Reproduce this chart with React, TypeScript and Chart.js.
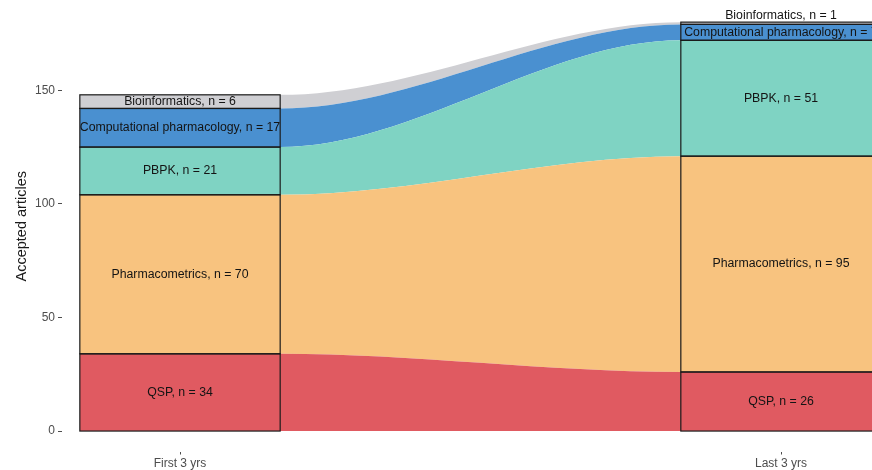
import React, { useEffect, useRef } from "react";
import { Chart, registerables } from "chart.js";

Chart.register(...registerables);

const categories = ["First 3 yrs", "Last 3 yrs"];
const strata = ["QSP", "Pharmacometrics", "PBPK", "Computational pharmacology", "Bioinformatics"];
const firstCounts = [34, 70, 21, 17, 6];
const lastCounts = [26, 95, 51, 7, 1];
const yTicks = [0, 50, 100, 150];
const colors = ["#e05a61", "#f8c37f", "#7fd3c3", "#4a90d0", "#cfcfd3"];

const HALF = 1 / 6; // half stratum width in category units
const FONT = "'Liberation Sans', Arial, Helvetica, sans-serif";

function cumulative(arr: number[]) {
  const out: number[] = [];
  let s = 0;
  for (const v of arr) {
    s += v;
    out.push(s);
  }
  return out;
}

export default function App() {
  const ref = useRef<HTMLCanvasElement | null>(null);

  useEffect(() => {
    if (!ref.current) return;
    const cumFirst = cumulative(firstCounts);
    const cumLast = cumulative(lastCounts);
    const columns = [firstCounts, lastCounts];
    const cums = [cumFirst, cumLast];

    const datasets = strata.map((name, i) => ({
      label: name,
      data: [
        { x: 1 - HALF, y: cumFirst[i] },
        { x: 1 + HALF, y: cumFirst[i] },
        { x: 2 - HALF, y: cumLast[i] },
        { x: 2 + HALF, y: cumLast[i] },
      ],
      borderWidth: 0,
      borderColor: colors[i],
      backgroundColor: colors[i],
      pointRadius: 0,
      cubicInterpolationMode: "monotone" as const,
      fill: i === 0 ? "origin" : "-1",
    }));

    const strataPlugin = {
      id: "strata",
      afterDatasetsDraw(chart: any) {
        const { ctx, scales } = chart;
        const xs = scales.x;
        const ys = scales.y;
        ctx.save();
        columns.forEach((counts, c) => {
          const cx = c + 1;
          const left = xs.getPixelForValue(cx - HALF);
          const right = xs.getPixelForValue(cx + HALF);
          const mid = xs.getPixelForValue(cx);
          counts.forEach((v, i) => {
            const top = ys.getPixelForValue(cums[c][i]);
            const bot = ys.getPixelForValue(cums[c][i] - v);
            ctx.strokeStyle = "#1a1a1a";
            ctx.lineWidth = 1.2;
            ctx.strokeRect(left, top, right - left, bot - top);
          });
          counts.forEach((v, i) => {
            const top = ys.getPixelForValue(cums[c][i]);
            const bot = ys.getPixelForValue(cums[c][i] - v);
            ctx.fillStyle = "#141414";
            ctx.font = `12.3px ${FONT}`;
            ctx.textAlign = "center";
            ctx.textBaseline = "middle";
            const y = v <= 2 ? top - 7 : (top + bot) / 2;
            ctx.fillText(`${strata[i]}, n = ${v}`, mid, y);
          });
        });
        ctx.restore();
      },
    };

    const chart = new Chart(ref.current, {
      type: "line",
      data: { datasets: datasets as any },
      options: {
        animation: false,
        responsive: false,
        maintainAspectRatio: false,
        layout: { padding: { top: 1, right: 0, left: 0, bottom: 0 } },
        plugins: {
          legend: { display: false },
          tooltip: { enabled: false },
        },
        elements: { line: { tension: 0 } },
        scales: {
          x: {
            type: "linear",
            min: 1 - 118 / 601,
            max: 1 - 118 / 601 + 810 / 601,
            afterBuildTicks: (scale: any) => {
              scale.ticks = categories.map((_, i) => ({ value: i + 1 }));
            },
            afterFit: (scale: any) => {
              scale.height = 18.5;
              scale.paddingLeft = 0;
              scale.paddingRight = 0;
            },
            ticks: {
              autoSkip: false,
              maxRotation: 0,
              padding: 2,
              color: "#4d4d4d",
              font: { family: FONT, size: 12 },
              callback: (value: any) => categories[Math.round(Number(value)) - 1] ?? "",
            },
            grid: {
              drawOnChartArea: false,
              drawTicks: true,
              tickLength: 3,
              tickColor: "#4d4d4d",
              tickWidth: 1,
            },
            border: { display: false },
          },
          y: {
            type: "linear",
            min: -9,
            max: 189.3,
            afterBuildTicks: (scale: any) => {
              scale.ticks = yTicks.map((v) => ({ value: v }));
            },
            afterFit: (scale: any) => {
              scale.width = 62;
              scale.paddingTop = 0;
              scale.paddingBottom = 0;
            },
            ticks: {
              padding: 3,
              color: "#4d4d4d",
              font: { family: FONT, size: 12 },
            },
            grid: {
              drawOnChartArea: false,
              drawTicks: true,
              tickLength: 4,
              tickColor: "#4d4d4d",
              tickWidth: 1,
            },
            border: { display: false },
            title: {
              display: true,
              text: "Accepted articles",
              color: "#1a1a1a",
              font: { family: FONT, size: 14.5 },
              padding: { top: 13, bottom: 0 },
            },
          },
        },
      },
      plugins: [strataPlugin],
    });
    return () => chart.destroy();
  }, []);

  return (
    <div style={{ position: "fixed", left: 0, top: 0, width: 872, height: 470, background: "#fff" }}>
      <canvas ref={ref} width={872} height={470} style={{ width: 872, height: 470, display: "block" }} />
    </div>
  );
}
